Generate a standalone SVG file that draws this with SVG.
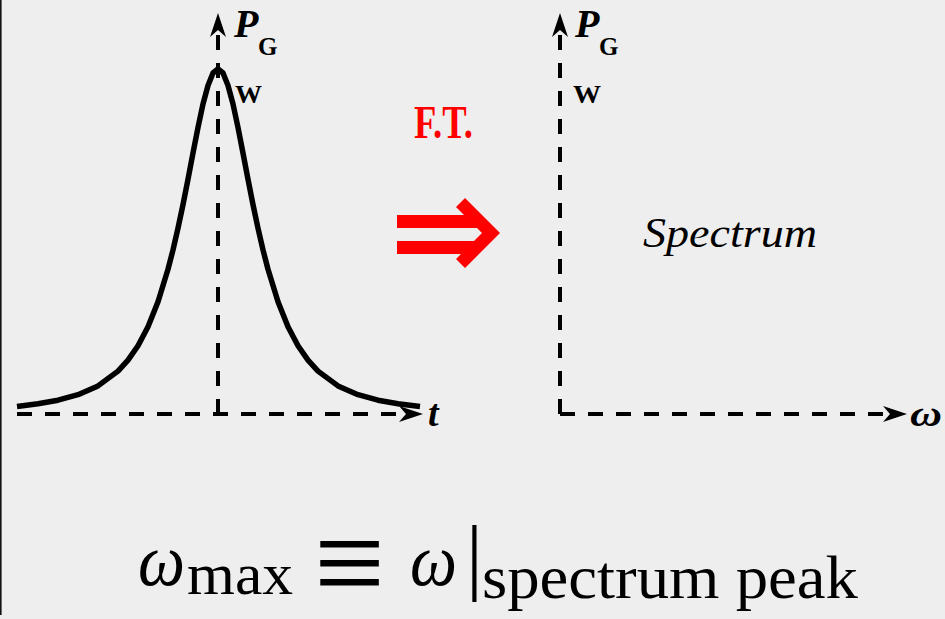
<svg xmlns="http://www.w3.org/2000/svg" width="945" height="619" viewBox="0 0 945 619">
<style>
.ax{fill:none;stroke:#000;stroke-width:4;stroke-dasharray:15 13;}
.crv{fill:none;stroke:#000;stroke-width:5.5;stroke-linejoin:round;}
.lbl{font-family:"Liberation Serif","Times New Roman",serif;font-weight:bold;fill:#000;}
.it{font-style:italic;}
.math{font-family:"Liberation Serif","Times New Roman",serif;fill:#000;}
</style>
<defs>
<marker id="ah" markerUnits="userSpaceOnUse" markerWidth="30" markerHeight="20" viewBox="-16 -10 28 20" refX="0" refY="0" orient="auto" overflow="visible">
<path d="M10,0 L-14,-8 L-7,0 L-14,8 Z" fill="#000"/>
</marker>
</defs>
<rect x="0" y="0" width="945" height="619" fill="#eeeeee"/>
<line x1="0.8" y1="0" x2="0.8" y2="615" stroke="#111" stroke-width="1.6"/>

<g id="connectors">
<line class="ax" x1="17" y1="414" x2="413" y2="414" marker-end="url(#ah)"/>
<line class="ax" x1="218" y1="414" x2="218" y2="23" marker-end="url(#ah)"/>
<line class="ax" x1="560" y1="414" x2="897" y2="414" marker-end="url(#ah)"/>
<line class="ax" x1="560" y1="414" x2="560" y2="23" marker-end="url(#ah)"/>
</g>

<g id="pulse">
<path class="crv" d="M17,406.5 L38,403.7 L58,400.2 L78,394.7 L98,385.9 L118,371.1 L128,360.1 L138,345.7 L148,326.7 L158,301.8 L168,269.3 L173,249.9 L178,228.2 L183,204.6 L188,179.3 L193,153.1 L198,127.5 L203,104 L208,85.5 L213,73 L218,69 L223,73 L228,85.5 L233,104 L238,127.5 L243,153.1 L248,179.3 L253,204.6 L258,228.2 L263,249.9 L268,269.3 L278,301.8 L288,326.7 L298,345.7 L308,360.1 L318,371.1 L338,385.9 L358,394.7 L378,400.2 L398,403.7 L420,406.5"/>
</g>

<g id="left-labels">
<text class="lbl" x="234" y="37"><tspan class="it" font-size="40">P</tspan><tspan font-size="25" x="258" y="55">G</tspan></text>
<text class="lbl" x="235" y="103" font-size="26" textLength="27" lengthAdjust="spacingAndGlyphs">W</text>
<text class="lbl it" x="428" y="426" font-size="38">t</text>
</g>

<g id="right-labels">
<text class="lbl" x="575" y="37"><tspan class="it" font-size="40">P</tspan><tspan font-size="25" x="599" y="55">G</tspan></text>
<text class="lbl" x="573" y="103" font-size="26" textLength="28" lengthAdjust="spacingAndGlyphs">W</text>
<text class="lbl it" x="910" y="426" font-size="36" textLength="32" lengthAdjust="spacingAndGlyphs">ω</text>
<text class="math it" x="643" y="247" font-size="42" textLength="174" lengthAdjust="spacingAndGlyphs">Spectrum</text>
</g>

<g id="ft">
<text class="lbl" x="414" y="138" font-size="46" fill="#ff0000" style="fill:#ff0000" textLength="59" lengthAdjust="spacingAndGlyphs">F.T.</text>
<g fill="#ff0000">
<rect x="397" y="215" width="80" height="13"/>
<rect x="397" y="241" width="80" height="13"/>
<polygon points="456,207 465,198 500,233 465,268 456,259 482,233"/>
</g>
</g>

<g id="formula">
<text class="math it" x="138" y="585" font-size="74" textLength="47" lengthAdjust="spacingAndGlyphs">ω</text>
<text class="math" x="187" y="594" font-size="60" textLength="106" lengthAdjust="spacingAndGlyphs">max</text>
<text class="math" transform="translate(0,564) scale(1,1.65) translate(0,-572)" x="314" y="598" font-size="80" textLength="71" lengthAdjust="spacingAndGlyphs">≡</text>
<text class="math it" x="410" y="585" font-size="74" textLength="47" lengthAdjust="spacingAndGlyphs">ω</text>
<text class="math" x="466" y="584" font-size="84">|</text>
<text class="math" x="482" y="598" font-size="62" textLength="376" lengthAdjust="spacingAndGlyphs">spectrum peak</text>
</g>
</svg>
